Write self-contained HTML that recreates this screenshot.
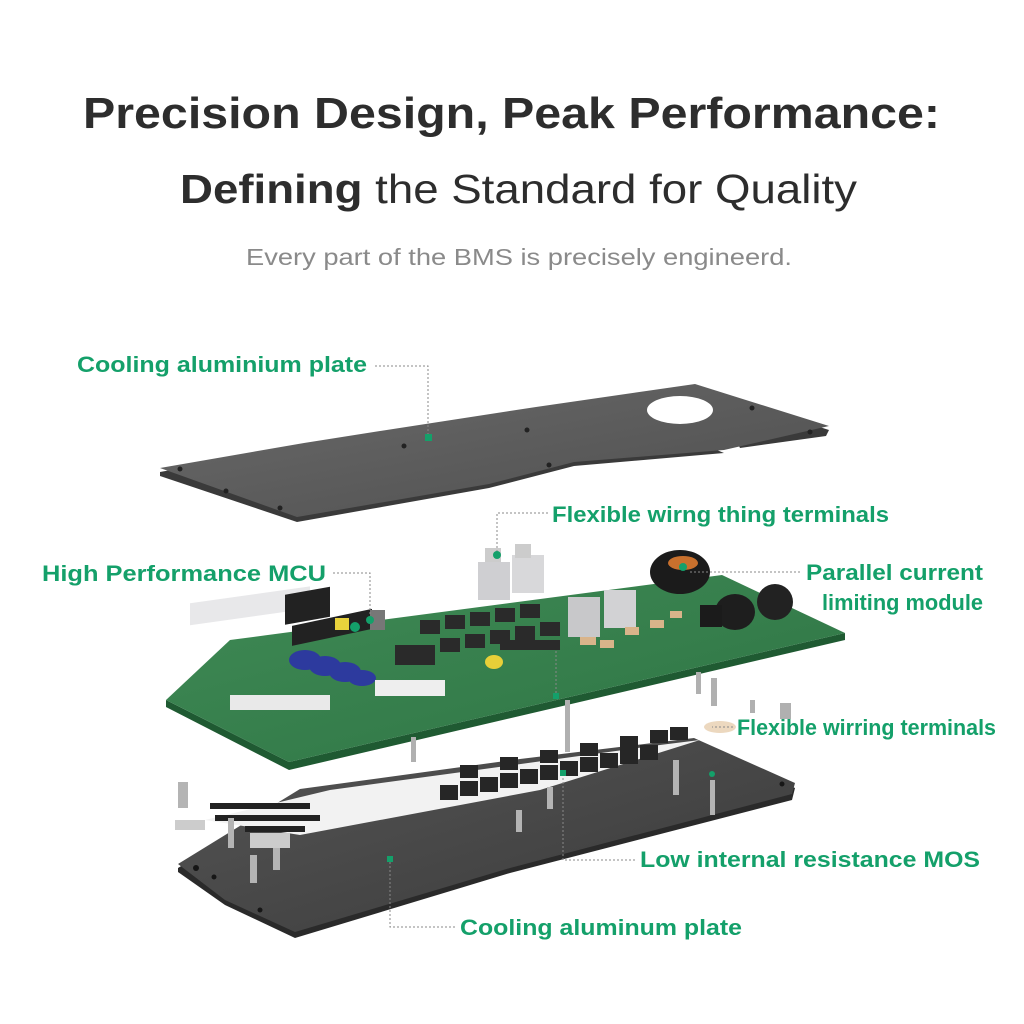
<!DOCTYPE html>
<html><head><meta charset="utf-8"><style>
html,body{margin:0;padding:0;background:#fff;}
svg{display:block;}
.t{font-family:"Liberation Sans",sans-serif;}
.g{font-family:"Liberation Sans",sans-serif;font-weight:bold;fill:#14a06a;font-size:22px;}
.ld{stroke:#888;stroke-width:1;stroke-dasharray:2 2;fill:none;}
</style></head><body>
<svg width="1024" height="1024" viewBox="0 0 1024 1024" xmlns="http://www.w3.org/2000/svg">
<defs>
<linearGradient id="tp" x1="0" y1="0" x2="1" y2="1"><stop offset="0" stop-color="#6a6a6a"/><stop offset="1" stop-color="#4e4e4e"/></linearGradient>
<linearGradient id="bp" x1="0" y1="0" x2="1" y2="1"><stop offset="0" stop-color="#555"/><stop offset="1" stop-color="#3a3a3a"/></linearGradient>
<linearGradient id="pcb" x1="0" y1="0" x2="1" y2="1"><stop offset="0" stop-color="#3f8a55"/><stop offset="1" stop-color="#2e7444"/></linearGradient>
</defs>
<rect width="1024" height="1024" fill="#fff"/>
<!-- titles -->
<text class="t" x="83" y="128" font-size="44" font-weight="bold" fill="#2d2d2d" textLength="857" lengthAdjust="spacingAndGlyphs">Precision Design, Peak Performance:</text>
<text class="t" x="180" y="203" font-size="41" fill="#2d2d2d" textLength="677" lengthAdjust="spacingAndGlyphs"><tspan font-weight="bold">Defining</tspan> the Standard for Quality</text>
<text class="t" x="246" y="265" font-size="23" fill="#8a8a8a" textLength="546" lengthAdjust="spacingAndGlyphs">Every part of the BMS is precisely engineerd.</text>

<!-- top plate -->
<polygon points="160,472 304,446 380,434 536,410 695,387 829,430 826,436 740,448 738,444 712,448 724,453 574,466 489,488 297,522 160,476" fill="#3a3a3a"/>
<polygon points="160,468 304,443 380,431 536,407 695,384 829,426 724,450 574,462 489,484 297,517" fill="url(#tp)"/>
<ellipse cx="680" cy="410" rx="33" ry="14" fill="#fff"/>
<g fill="#222"><circle cx="180" cy="469" r="2.5"/><circle cx="226" cy="491" r="2.5"/><circle cx="280" cy="508" r="2.5"/><circle cx="404" cy="446" r="2.5"/><circle cx="527" cy="430" r="2.5"/><circle cx="752" cy="408" r="2.5"/><circle cx="810" cy="432" r="2.5"/><circle cx="549" cy="465" r="2.5"/></g>

<!-- PCB -->
<polygon points="166,700 289,762 845,633 845,640 289,770 166,707" fill="#1f5a32"/>
<polygon points="166,700 230,640 722,575 845,633 289,762" fill="url(#pcb)"/>
<!-- components on PCB -->
<g>
<rect x="190" y="630" width="120" height="22" fill="#e8e8ea" transform="skewY(-8)"/>
<rect x="285" y="645" width="45" height="30" fill="#222" transform="skewY(-10)"/>
<rect x="230" y="695" width="100" height="15" fill="#e9e9e9"/>
<rect x="292" y="688" width="80" height="20" fill="#222" transform="skewY(-12)"/>
<g fill="#2d3a9e"><ellipse cx="305" cy="660" rx="16" ry="10"/><ellipse cx="325" cy="666" rx="16" ry="10"/><ellipse cx="345" cy="672" rx="16" ry="10"/><ellipse cx="362" cy="678" rx="14" ry="8"/></g>
<rect x="375" y="680" width="70" height="16" fill="#eee"/>
<rect x="370" y="610" width="15" height="20" fill="#777"/>
<rect x="335" y="618" width="14" height="12" fill="#e8d23c"/>
<g fill="#2a2a2a">
<rect x="420" y="620" width="20" height="14"/><rect x="445" y="615" width="20" height="14"/><rect x="470" y="612" width="20" height="14"/><rect x="495" y="608" width="20" height="14"/><rect x="520" y="604" width="20" height="14"/>
<rect x="440" y="638" width="20" height="14"/><rect x="465" y="634" width="20" height="14"/><rect x="490" y="630" width="20" height="14"/><rect x="515" y="626" width="20" height="14"/><rect x="540" y="622" width="20" height="14"/>
<rect x="395" y="645" width="40" height="20"/><rect x="500" y="640" width="60" height="10"/>
</g>
<rect x="478" y="562" width="32" height="38" fill="#cfcfd2"/><rect x="512" y="555" width="32" height="38" fill="#d8d8da"/>
<rect x="485" y="548" width="16" height="14" fill="#ccc"/><rect x="515" y="544" width="16" height="14" fill="#ccc"/>
<rect x="568" y="597" width="32" height="40" fill="#c8c8ca"/><rect x="604" y="590" width="32" height="38" fill="#d2d2d4"/>
<ellipse cx="680" cy="572" rx="30" ry="22" fill="#1b1b1b"/><ellipse cx="683" cy="563" rx="15" ry="7" fill="#c8702d"/>
<ellipse cx="735" cy="612" rx="20" ry="18" fill="#1e1e1e"/><ellipse cx="775" cy="602" rx="18" ry="18" fill="#222"/>
<rect x="700" y="605" width="22" height="22" fill="#1b1b1b"/>
<ellipse cx="494" cy="662" rx="9" ry="7" fill="#e8cf38"/>
<g fill="#d9b48a"><rect x="580" y="637" width="16" height="8"/><rect x="600" y="640" width="14" height="8"/><rect x="625" y="627" width="14" height="8"/><rect x="650" y="620" width="14" height="8"/><rect x="670" y="611" width="12" height="7"/></g>
</g>
<!-- standoffs -->
<g fill="#b0b0b0"><rect x="565" y="700" width="5" height="52"/><rect x="411" y="737" width="5" height="25"/><rect x="696" y="672" width="5" height="22"/><rect x="711" y="678" width="6" height="28"/><rect x="750" y="700" width="5" height="13"/><rect x="780" y="703" width="11" height="16"/></g>
<ellipse cx="720" cy="727" rx="16" ry="6" fill="#ecd8bf"/>

<!-- bottom plate -->
<polygon points="178,868 300,793 520,763 694,742 795,788 792,800 510,873 295,938 225,905 178,872" fill="#2a2a2a"/>
<polygon points="178,864 300,789 520,759 694,738 795,783 792,794 510,868 295,932 225,900" fill="url(#bp)"/>
<!-- components bottom -->
<polygon points="205,820 330,790 440,775 660,745 700,740 540,790 300,835" fill="#f2f2f2"/>
<g fill="#222">
<rect x="210" y="803" width="100" height="6"/><rect x="215" y="815" width="105" height="6"/><rect x="245" y="826" width="60" height="6"/>
</g>
<g fill="#262626">
<rect x="440" y="785" width="18" height="15"/><rect x="460" y="781" width="18" height="15"/><rect x="480" y="777" width="18" height="15"/><rect x="500" y="773" width="18" height="15"/><rect x="520" y="769" width="18" height="15"/><rect x="540" y="765" width="18" height="15"/><rect x="560" y="761" width="18" height="15"/><rect x="580" y="757" width="18" height="15"/><rect x="600" y="753" width="18" height="15"/><rect x="620" y="749" width="18" height="15"/><rect x="640" y="745" width="18" height="15"/>
<rect x="460" y="765" width="18" height="13"/><rect x="500" y="757" width="18" height="13"/><rect x="540" y="750" width="18" height="13"/><rect x="580" y="743" width="18" height="13"/><rect x="620" y="736" width="18" height="13"/><rect x="650" y="730" width="18" height="13"/><rect x="670" y="727" width="18" height="13"/>
</g>
<g fill="#b4b4b4"><rect x="178" y="782" width="10" height="26"/><rect x="228" y="818" width="6" height="30"/><rect x="250" y="855" width="7" height="28"/><rect x="273" y="840" width="7" height="30"/><rect x="516" y="810" width="6" height="22"/><rect x="547" y="787" width="6" height="22"/><rect x="673" y="760" width="6" height="35"/><rect x="710" y="780" width="5" height="35"/></g>
<rect x="175" y="820" width="30" height="10" fill="#ccc"/><rect x="250" y="833" width="40" height="15" fill="#ccc"/>
<g fill="#161616"><circle cx="196" cy="868" r="3"/><circle cx="214" cy="877" r="2.5"/><circle cx="260" cy="910" r="2.5"/><circle cx="782" cy="784" r="2.5"/></g>

<!-- leaders -->
<path class="ld" d="M375,366 H428 V437"/>
<path class="ld" d="M333,573 H370 V620"/>
<path class="ld" d="M548,513 H497 V555"/>
<path class="ld" d="M800,572 H690"/>
<path class="ld" d="M733,727 H712"/>
<path class="ld" d="M635,860 H563 V773"/>
<path class="ld" d="M455,927 H390 V858"/>
<path class="ld" d="M556,697 V650"/>
<g fill="#14a06a"><rect x="425" y="434" width="7" height="7"/><circle cx="370" cy="620" r="4"/><circle cx="497" cy="555" r="4"/><circle cx="683" cy="567" r="4"/><rect x="553" y="693" width="6" height="6"/><rect x="560" y="770" width="6" height="6"/><rect x="387" y="856" width="6" height="6"/><circle cx="712" cy="774" r="3"/><circle cx="355" cy="627" r="5"/></g>

<!-- labels -->
<text class="g" x="77" y="372" textLength="290" lengthAdjust="spacingAndGlyphs">Cooling aluminium plate</text>
<text class="g" x="552" y="522" textLength="337" lengthAdjust="spacingAndGlyphs">Flexible wirng thing terminals</text>
<text class="g" x="42" y="581" textLength="284" lengthAdjust="spacingAndGlyphs">High Performance MCU</text>
<text class="g" x="806" y="580" textLength="177" lengthAdjust="spacingAndGlyphs">Parallel current</text>
<text class="g" x="822" y="610" textLength="161" lengthAdjust="spacingAndGlyphs">limiting module</text>
<text class="g" x="737" y="735" textLength="259" lengthAdjust="spacingAndGlyphs">Flexible wirring terminals</text>
<text class="g" x="640" y="867" textLength="340" lengthAdjust="spacingAndGlyphs">Low internal resistance MOS</text>
<text class="g" x="460" y="935" textLength="282" lengthAdjust="spacingAndGlyphs">Cooling aluminum plate</text>
</svg>
</body></html>
